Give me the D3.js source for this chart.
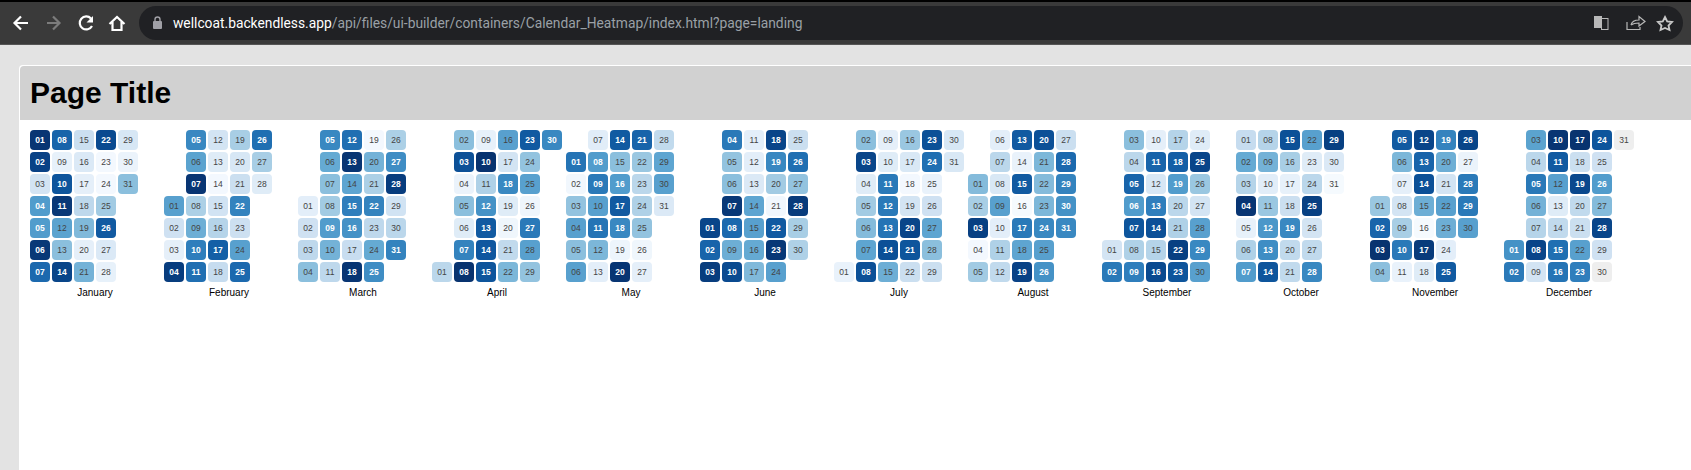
<!DOCTYPE html>
<html>
<head>
<meta charset="utf-8">
<title>Calendar Heatmap</title>
<script src="https://cdn.jsdelivr.net/npm/d3@7"></script>
<style>
html,body{margin:0;padding:0;background:#fff;overflow:hidden}
svg{display:block}
</style>
</head>
<body>
<svg id="chart" width="1691" height="470"></svg>
<script>
const year = 2018;
const monthNames = ["January","February","March","April","May","June","July","August","September","October","November","December"];
const jan = [98,93,18,58,58,97,78,80,8,86,97,55,42,92,22,14,9,27,45,9,48,90,2,2,36,84,14,8,16,6,42];
const feb = [56,20,9,95,66,55,98,33,50,70,76,18,12,2,19,30,82,24,34,16,22,68,21,56,78,76,34,12];
const mar = [10,20,27,42,66,52,42,36,58,48,27,76,98,54,70,62,23,98,2,48,33,68,27,52,64,33,64,95,19,28,68];
const apr = [28,42,88,6,42,12,68,99,8,99,32,62,84,85,86,56,18,66,12,4,26,46,84,40,56,4,72,56,40,66];
const may = [74,3,40,56,42,56,11,58,72,56,74,46,10,84,42,58,84,66,5,98,80,38,28,32,40,4,9,26,54,56,14];
const jun = [92,80,95,72,40,42,97,78,50,90,10,10,14,54,56,52,45,92,66,36,3,84,97,56,22,76,40,96,34,32];
const jul = [7,42,92,12,36,44,54,88,9,12,72,72,74,88,50,38,15,2,18,92,86,22,88,76,7,20,54,42,22,16,15];
const aug = [44,34,94,2,36,10,28,15,56,10,32,26,84,7,84,1,72,54,93,88,46,44,46,66,56,62,22,78,68,62,66];
const sep = [18,72,42,28,80,58,86,32,70,9,80,16,70,88,30,90,30,82,58,28,32,94,86,12,92,38,18,56,66,56];
const oct = [24,52,30,98,8,32,58,30,48,11,38,60,64,86,88,34,8,22,66,26,26,56,12,28,94,18,26,66,94,14,1];
const nov = [38,80,99,42,84,46,9,18,34,72,7,92,80,88,50,1,96,12,68,50,18,56,50,10,84,92,6,72,72,56];
const dec = [62,72,55,28,72,48,30,92,18,98,84,56,12,26,76,74,99,22,91,26,22,56,70,86,20,58,44,92,20,null,null];
const monthValues = [jan,feb,mar,apr,may,jun,jul,aug,sep,oct,nov,dec];

const svg = d3.select("#chart");

// browser chrome and page frame around the chart
svg.append("rect").attr("width",1691).attr("height",470).attr("fill","#e3e3e3");
svg.append("rect").attr("width",1691).attr("height",2).attr("fill","#000");
svg.append("rect").attr("y",2).attr("width",1691).attr("height",42).attr("fill","#3a3a3a");
svg.append("rect").attr("y",44).attr("width",1691).attr("height",1).attr("fill","#555");
svg.append("rect").attr("x",139).attr("y",6).attr("width",1544).attr("height",34).attr("rx",17).attr("fill","#202124");

const icon = (d,stroke,sw=2.2) => svg.append("path").attr("d",d).attr("fill","none").attr("stroke",stroke).attr("stroke-width",sw);
icon("M28 23H15M21 16.500L14.500 23L21 29.500","#fff");
icon("M47 23H59M53 16.500L59.500 23L53 29.500","#7c7c7c");
icon("M91 18.500A6.500 6.500 0 1 0 92 26","#fff");
svg.append("path").attr("d","M86.500 22.500H93V16Z").attr("fill","#fff");
icon("M109.500 24L117 17L124.500 24M112.500 22V30H121.500V22","#fff");
svg.append("rect").attr("x",153).attr("y",21).attr("width",9).attr("height",8).attr("rx",1).attr("fill","#a0a0a6");
icon("M155 21V19.500A2.500 2.500 0 0 1 160 19.500V21","#a0a0a6",1.4);

const url = svg.append("text").attr("x",173).attr("y",28)
  .attr("font-family","Roboto,sans-serif").attr("font-size",13.800);
url.append("tspan").attr("fill","#ffffff").text("wellcoat.backendless.app");
url.append("tspan").attr("fill","#9aa0a6").text("/api/files/ui-builder/containers/Calendar_Heatmap/index.html?page=landing");

// translate, share, star icons
svg.append("rect").attr("x",1594).attr("y",16).attr("width",8).attr("height",12).attr("fill","#b8b8b8");
svg.append("rect").attr("x",1601.500).attr("y",18.500).attr("width",6.500).attr("height",11).attr("fill","none").attr("stroke","#b8b8b8");
icon("M1627 22V29.500H1640V27M1631 25C1632 21 1635 20 1639 20V16.500L1645 21.500L1639 26V23C1635.500 23 1633 23.500 1631 25","#b8b8b8",1.2);
icon("M1665 17L1667.200 21.500L1672 22L1668.500 25.500L1669.500 30L1665 28L1660.500 30L1661.500 25.500L1658 22L1662.800 21.500Z","#c8c8c8",1.8);

// page panel
svg.append("path").attr("d","M19 470V69Q19 65 23 65H1691V470Z").attr("fill","#fff");
svg.append("path").attr("d","M20 120V70Q20 66 24 66H1691V120Z").attr("fill","#d1d1d1");
svg.append("text").attr("x",30).attr("y",103)
  .attr("font-family","'Liberation Sans',Arial,sans-serif").attr("font-weight",700).attr("font-size",30).attr("fill","#000")
  .text("Page Title");

// calendar
const color = d3.scaleSequential(d3.interpolateBlues).domain([0,100]);
const monthX = d3.scaleLinear().domain([0,11]).range([30,1504]);
const colX = d3.scaleLinear().domain([0,5]).range([0,110]);
const rowY = d3.scaleLinear().domain([0,6]).range([130,262]);
const cell = 20;
const monday = d => (d.getDay()+6)%7;

const months = svg.selectAll("g.month").data(monthNames).join("g")
  .attr("class","month")
  .attr("transform",(d,i)=>`translate(${monthX(i)},0)`);

months.each(function(name,m){
  const first = new Date(year,m,1);
  const days = monthValues[m].map((v,i)=>{
    const date = new Date(year,m,i+1);
    return {v, day:i+1, row:monday(date), col:d3.timeMonday.count(first,date)};
  });
  const g = d3.select(this);
  g.selectAll("rect").data(days).join("rect")
    .attr("x",d=>colX(d.col)).attr("y",d=>rowY(d.row))
    .attr("width",cell).attr("height",cell).attr("rx",4).attr("ry",4)
    .attr("fill",d=>d.v===null?"#eeeeee":color(d.v));
  g.selectAll("text.day").data(days).join("text")
    .attr("class","day")
    .attr("x",d=>colX(d.col)+cell/2).attr("y",d=>rowY(d.row)+cell/2+3)
    .attr("text-anchor","middle")
    .attr("font-family","'Liberation Sans',Arial,sans-serif")
    .attr("font-size",8.500)
    .attr("font-weight",d=>d.v>=57?700:400)
    .attr("fill",d=>d.v>=57?"#ffffff":"#444444")
    .text(d=>d3.format("02")(d.day));
  g.append("text").attr("x",65).attr("y",295.500)
    .attr("text-anchor","middle")
    .attr("font-family","'Liberation Sans',Arial,sans-serif")
    .attr("font-size",10).attr("fill","#000")
    .text(name);
});
</script>
</body>
</html>
